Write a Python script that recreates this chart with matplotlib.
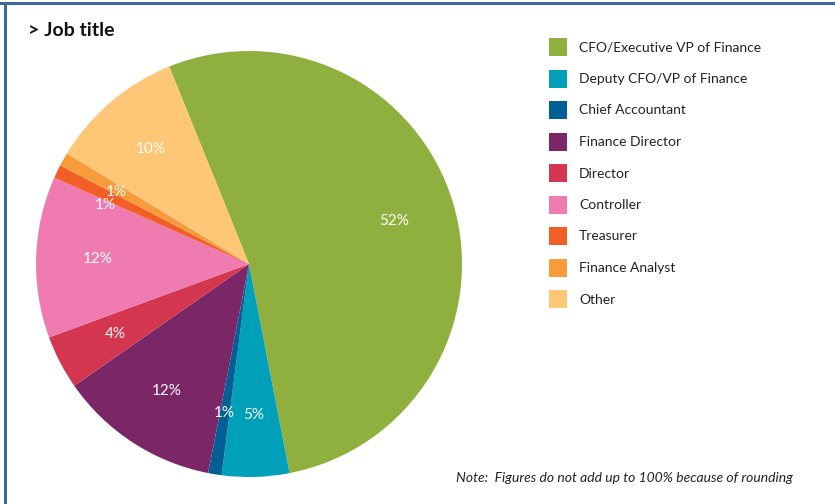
import matplotlib
matplotlib.use('Agg')
import numpy as np
import matplotlib.pyplot as plt
from matplotlib.patches import Rectangle
from matplotlib.lines import Line2D

# Job title breakdown (percent, as published; rounding means they sum to 98)
titles = ['CFO/Executive VP of Finance', 'Deputy CFO/VP of Finance', 'Chief Accountant',
          'Finance Director', 'Director', 'Controller', 'Treasurer', 'Finance Analyst', 'Other']
shares = [52, 5, 1, 12, 4, 12, 1, 1, 10]
colors = ['#8fb03e', '#00a0bb', '#005f96', '#7b2667', '#d5364f',
          '#ef7bb0', '#f15f26', '#f89c3b', '#fdc777']

plt.rcParams['font.family'] = ['Lato', 'DejaVu Sans']

W, H = 835, 504
fig = plt.figure(figsize=(W / 100, H / 100), dpi=100)
fig.patch.set_facecolor('white')

# pie axes: centre (249, 264) px, radius 213 px
cx, cy, r = 249, 264, 213
ax = fig.add_axes([(cx - r) / W, (H - cy - r) / H, 2 * r / W, 2 * r / H])
total = sum(shares)
wedges, _, pct_texts = ax.pie(
    shares, colors=colors, startangle=112, counterclock=False,
    autopct=lambda p: f'{round(p * total / 100):d}%', pctdistance=0.71,
    wedgeprops={'linewidth': 0},
    textprops={'color': 'white', 'fontsize': 11})
ax.set_xlim(-1, 1)
ax.set_ylim(-1, 1)
ax.set_aspect('equal')
ax.axis('off')

# spread the two thin-slice labels so they don't collide
for idx, dang, dist in [(6, 3.5, 0.73), (7, 1.0, 0.71)]:
    w = wedges[idx]
    a = np.deg2rad((w.theta1 + w.theta2) / 2 + dang)
    pct_texts[idx].set_position((dist * np.cos(a), dist * np.sin(a)))

# title and note
fig.text(28 / W, 1 - 30 / H, '> Job title', fontsize=14, fontweight='bold',
         color='#111111', va='center', ha='left')
fig.text(456 / W, 1 - 478 / H, 'Note:  Figures do not add up to 100% because of rounding',
         fontsize=10, style='italic', color='#222222', va='center', ha='left')

# legend drawn as coloured squares with labels
sq = 18
for i, (name, col) in enumerate(zip(titles, colors)):
    yc = 47 + i * 31.5
    fig.add_artist(Rectangle((549 / W, 1 - (yc + sq / 2) / H), sq / W, sq / H,
                             transform=fig.transFigure, facecolor=col, edgecolor='none'))
    fig.text(579 / W, 1 - (yc + 0.5) / H, name, fontsize=10, color='#222222',
             va='center', ha='left')

# frame along the top and left edges
border = '#41669a'
fig.add_artist(Line2D([0, 1], [1 - 3 / H, 1 - 3 / H], transform=fig.transFigure,
                      color=border, linewidth=2.2))
fig.add_artist(Line2D([4.5 / W, 4.5 / W], [0, 1 - 3 / H], transform=fig.transFigure,
                      color=border, linewidth=2.2))

fig.savefig('out.png', dpi=100)
